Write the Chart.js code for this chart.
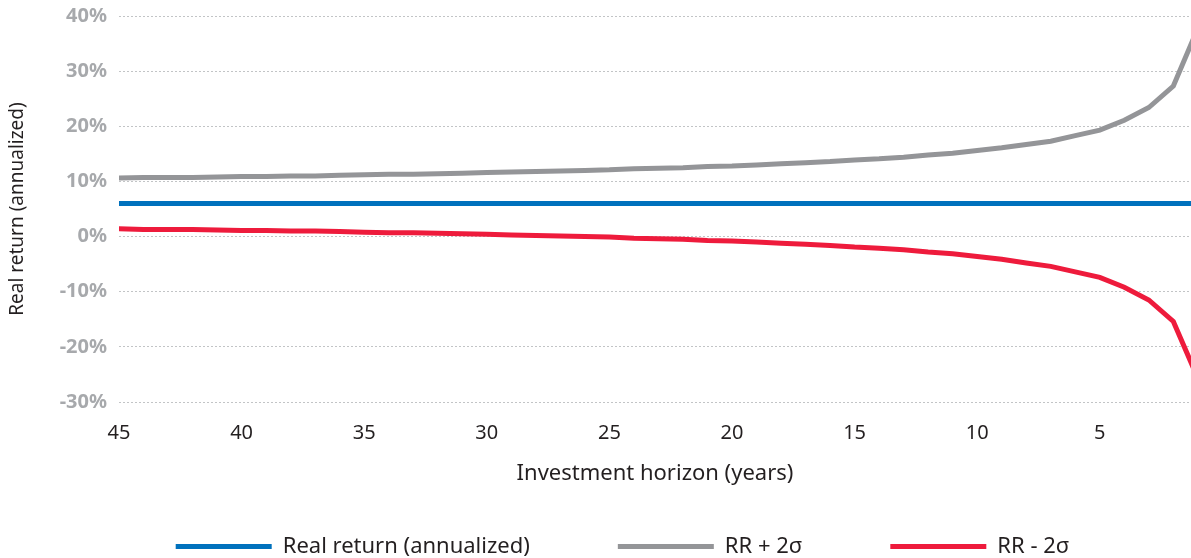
<!DOCTYPE html>
<html>
<head>
<meta charset="utf-8">
<script src="https://cdn.jsdelivr.net/npm/chart.js@4.4.1/dist/chart.umd.min.js"></script>
<style>
  html, body { margin: 0; padding: 0; background: #fff; }
  #wrap { width: 1191px; height: 558px; position: relative; }
</style>
</head>
<body>
<div id="wrap"><canvas id="chart"></canvas></div>
<script>
// investment horizon in years, 45 down to 1
const years = [45, 44, 43, 42, 41, 40, 39, 38, 37, 36, 35, 34, 33, 32, 31, 30, 29, 28, 27, 26, 25, 24, 23,
               22, 21, 20, 19, 18, 17, 16, 15, 14, 13, 12, 11, 10, 9, 8, 7, 6, 5, 4, 3, 2, 1];

const realReturn = [6, 6, 6, 6, 6, 6, 6, 6, 6, 6, 6, 6, 6, 6, 6, 6, 6, 6, 6, 6, 6, 6, 6,
                    6, 6, 6, 6, 6, 6, 6, 6, 6, 6, 6, 6, 6, 6, 6, 6, 6, 6, 6, 6, 6, 6];

const rrPlus = [10.6, 10.7, 10.7, 10.7, 10.8, 10.9, 10.9, 11.0, 11.0, 11.1, 11.2, 11.3, 11.3, 11.4, 11.5,
                11.6, 11.7, 11.8, 11.9, 12.0, 12.1, 12.3, 12.4, 12.5, 12.7, 12.8, 13.0, 13.2, 13.4, 13.6,
                13.9, 14.1, 14.4, 14.8, 15.1, 15.6, 16.1, 16.7, 17.3, 18.3, 19.3, 21.1, 23.4, 27.3, 37.8];

const rrMinus = [1.4, 1.3, 1.3, 1.3, 1.2, 1.1, 1.1, 1.0, 1.0, 0.9, 0.8, 0.7, 0.7, 0.6, 0.5,
                 0.4, 0.3, 0.2, 0.1, 0.0, -0.1, -0.3, -0.4, -0.5, -0.7, -0.8, -1.0, -1.2, -1.4, -1.6,
                 -1.9, -2.1, -2.4, -2.8, -3.1, -3.6, -4.1, -4.8, -5.4, -6.4, -7.4, -9.2, -11.5, -15.4, -25.7];

const xTicks = [45, 40, 35, 30, 25, 20, 15, 10, 5];
const yTicks = [-30, -20, -10, 0, 10, 20, 30, 40];

const seriesNames = ['Real return (annualized)', 'RR + 2σ', 'RR - 2σ'];
const seriesColors = ['#0071bd', '#949598', '#ee1b3c'];

const FONT = "'Noto Sans', sans-serif";

function pts(values) {
    return years.map((yr, i) => ({ x: yr, y: values[i] }));
}

function makeSet(i, values) {
    return {
        label: seriesNames[i],
        data: pts(values),
        borderColor: seriesColors[i],
        backgroundColor: seriesColors[i],
        borderWidth: 5,
        borderCapStyle: 'round',
        pointRadius: 0,
        pointHoverRadius: 0,
        pointStyle: 'line',
        tension: 0
    };
}

// the legend sits low with wide gaps between items, so its own padding is large
// and the layout padding pulls it back down
const ctx = document.getElementById('chart').getContext('2d');
new Chart(ctx, {
    type: 'line',
    data: {
        datasets: [
            makeSet(0, realReturn),
            makeSet(1, rrPlus),
            makeSet(2, rrMinus)
        ]
    },
    options: {
        responsive: true,
        maintainAspectRatio: false,
        animation: false,
        layout: { padding: { top: 16, right: 0, bottom: -9.5, left: 54 } },
        plugins: {
            tooltip: { enabled: false },
            legend: {
                position: 'bottom',
                labels: {
                    usePointStyle: true,
                    pointStyleWidth: 96,
                    boxHeight: 5,
                    padding: 88,
                    color: '#231f20',
                    font: { family: FONT, size: 22 }
                }
            }
        },
        scales: {
            x: {
                type: 'linear',
                reverse: true,
                min: 1.28,
                max: 45,
                afterBuildTicks: axis => { axis.ticks = xTicks.map(v => ({ value: v })); },
                afterFit: axis => {
                    axis.height = 45.5;
                    axis.paddingLeft = 0;
                    axis.paddingRight = 0;
                },
                grid: { display: false, drawTicks: false },
                border: { display: false },
                ticks: {
                    padding: 19,
                    color: '#231f20',
                    font: { family: FONT, size: 20 },
                    maxRotation: 0,
                    autoSkip: false
                },
                title: {
                    display: true,
                    text: 'Investment horizon (years)',
                    color: '#231f20',
                    font: { family: FONT, size: 22 },
                    padding: { top: 0, bottom: -39.7 }
                }
            },
            y: {
                min: -30,
                max: 40,
                afterBuildTicks: axis => { axis.ticks = yTicks.map(v => ({ value: v })); },
                afterFit: axis => {
                    axis.width = 65;
                    axis.paddingTop = 0;
                    axis.paddingBottom = 0;
                },
                grid: {
                    color: '#c2c4c6',
                    lineWidth: 1,
                    drawTicks: false
                },
                border: { display: false, dash: [2, 2] },
                ticks: {
                    padding: 12,
                    color: '#a7a9ac',
                    font: { family: FONT, size: 20, weight: 'bold' },
                    callback: v => v + '%'
                },
                title: {
                    display: true,
                    text: 'Real return (annualized)',
                    color: '#231f20',
                    font: { family: FONT, size: 19 },
                    padding: { top: -47.4, bottom: 0 }
                }
            }
        }
    }
});
</script>
</body>
</html>
